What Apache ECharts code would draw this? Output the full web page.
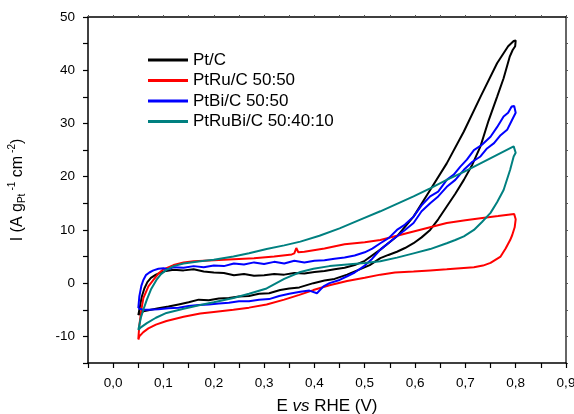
<!DOCTYPE html>
<html><head><meta charset="utf-8">
<script src="https://cdn.jsdelivr.net/npm/echarts@6/dist/echarts.min.js"></script>
<style>html,body{margin:0;padding:0;background:#fff}#c{width:574px;height:414px}</style>
</head><body><div id="c"></div>
<script>
var seriesNames = ['Pt/C', 'PtRu/C 50:50', 'PtBi/C 50:50', 'PtRuBi/C 50:40:10'];
var seriesColors = ['#000000', '#ff0000', '#0000ff', '#008080'];

// [E (V), I (A g_Pt^-1 cm^-2)] read along the cycle: forward scan then backward scan
var ptC = [[0.050,-6.0],[0.053,-4.5],[0.057,-2.5],[0.062,-1.0],[0.068,0.2],[0.075,1.0],[0.085,1.6],[0.095,2.0],[0.105,2.3],[0.12,2.5],[0.14,2.4],[0.16,2.6],[0.18,2.2],[0.20,2.0],[0.22,1.9],[0.24,1.5],[0.26,1.7],[0.28,1.4],[0.30,1.5],[0.32,1.7],[0.34,1.6],[0.36,1.9],[0.38,1.8],[0.40,2.1],[0.42,2.3],[0.44,2.6],[0.46,2.9],[0.48,3.4],[0.50,4.2],[0.531,6.3],[0.564,8.8],[0.597,12.5],[0.630,17.5],[0.663,22.5],[0.697,28.5],[0.730,35.0],[0.763,41.3],[0.785,44.5],[0.796,45.5],[0.800,45.6],
  [0.799,44.5],[0.794,43.8],[0.788,42.5],[0.776,38.5],[0.763,35.0],[0.746,30.5],[0.730,25.7],[0.714,22.3],[0.697,19.4],[0.680,16.8],[0.663,14.4],[0.646,12.0],[0.630,10.0],[0.613,8.6],[0.597,7.5],[0.580,6.6],[0.564,5.9],[0.547,5.3],[0.531,4.7],[0.510,3.4],[0.490,2.6],[0.465,1.6],[0.440,0.8],[0.420,0.5],[0.398,0.0],[0.370,-0.8],[0.350,-1.0],[0.332,-1.3],[0.310,-1.9],[0.290,-2.0],[0.270,-2.4],[0.250,-2.5],[0.230,-2.8],[0.210,-2.9],[0.190,-3.2],[0.170,-3.1],[0.150,-3.6],[0.130,-4.0],[0.110,-4.4],[0.090,-4.7],[0.075,-5.0],[0.060,-5.3],[0.052,-5.8],[0.050,-6.0]];

var ptRu = [[0.050,-10.5],[0.052,-8.0],[0.056,-5.0],[0.060,-2.8],[0.070,-0.6],[0.080,0.6],[0.090,1.8],[0.100,2.6],[0.120,3.4],[0.140,3.9],[0.160,4.1],[0.180,4.2],[0.200,4.3],[0.240,4.5],[0.280,4.7],[0.320,5.0],[0.355,5.4],[0.360,5.6],[0.364,6.6],[0.368,5.8],[0.380,5.9],[0.420,6.5],[0.460,7.3],[0.500,7.7],[0.531,8.1],[0.564,8.9],[0.597,9.7],[0.630,10.5],[0.663,11.3],[0.700,11.8],[0.730,12.2],[0.765,12.6],[0.797,13.0],
  [0.800,12.0],[0.798,10.5],[0.793,9.0],[0.789,8.1],[0.780,6.5],[0.770,5.0],[0.750,3.8],[0.735,3.3],[0.717,3.0],[0.690,2.8],[0.663,2.6],[0.630,2.4],[0.597,2.2],[0.560,2.0],[0.531,1.6],[0.500,1.0],[0.465,0.4],[0.430,-0.4],[0.398,-1.3],[0.370,-2.2],[0.340,-3.1],[0.305,-4.0],[0.270,-4.6],[0.239,-5.0],[0.200,-5.4],[0.173,-5.7],[0.140,-6.3],[0.106,-7.1],[0.085,-7.8],[0.070,-8.5],[0.060,-9.2],[0.052,-10.0],[0.050,-10.6]];

var ptBi = [[0.050,-4.7],[0.052,-2.5],[0.056,-0.5],[0.060,0.6],[0.065,1.5],[0.072,2.0],[0.080,2.4],[0.090,2.7],[0.100,2.8],[0.110,2.6],[0.120,3.0],[0.140,2.9],[0.160,3.2],[0.180,3.0],[0.200,3.3],[0.220,3.2],[0.240,3.7],[0.260,3.5],[0.280,3.9],[0.300,3.6],[0.320,4.0],[0.340,3.7],[0.360,4.2],[0.380,3.9],[0.400,4.2],[0.420,4.3],[0.440,4.6],[0.460,4.8],[0.480,5.2],[0.500,5.8],[0.515,6.5],[0.531,7.5],[0.548,8.5],[0.564,10.0],[0.580,11.0],[0.597,12.5],[0.613,14.6],[0.630,16.3],[0.646,17.2],[0.663,19.4],[0.677,20.4],[0.690,21.9],[0.703,23.2],[0.717,25.0],[0.733,26.0],[0.750,27.5],[0.763,29.3],[0.776,31.3],[0.785,32.0],[0.792,33.2],[0.797,33.3],
  [0.800,32.0],[0.792,30.5],[0.783,28.8],[0.770,27.8],[0.757,26.3],[0.743,25.3],[0.730,23.8],[0.714,22.8],[0.697,21.3],[0.680,19.4],[0.663,18.1],[0.646,16.3],[0.630,15.0],[0.613,13.5],[0.597,11.3],[0.580,10.0],[0.564,8.8],[0.548,7.6],[0.531,6.3],[0.515,4.6],[0.500,3.3],[0.480,2.0],[0.465,1.3],[0.450,0.6],[0.430,0.0],[0.418,-0.6],[0.405,-1.9],[0.390,-1.4],[0.372,-1.6],[0.350,-2.0],[0.330,-2.4],[0.310,-3.0],[0.290,-3.1],[0.270,-3.4],[0.250,-3.4],[0.230,-3.7],[0.210,-3.8],[0.190,-4.0],[0.170,-4.1],[0.150,-4.3],[0.130,-4.6],[0.110,-4.7],[0.090,-4.9],[0.070,-5.0],[0.060,-5.0],[0.052,-4.8],[0.050,-4.7]];

var ptRuBi = [[0.050,-8.8],[0.055,-6.5],[0.060,-5.0],[0.067,-3.1],[0.075,-1.2],[0.086,0.6],[0.095,1.7],[0.106,2.5],[0.120,3.2],[0.140,3.7],[0.173,4.1],[0.200,4.4],[0.239,5.0],[0.270,5.6],[0.305,6.4],[0.340,7.1],[0.372,7.8],[0.410,8.9],[0.450,10.3],[0.490,11.9],[0.531,13.5],[0.564,14.9],[0.597,16.3],[0.630,17.8],[0.663,19.4],[0.697,20.9],[0.730,22.5],[0.763,24.1],[0.796,25.7],
  [0.800,24.5],[0.796,23.8],[0.789,21.3],[0.776,17.5],[0.763,15.2],[0.750,13.2],[0.733,11.5],[0.717,10.0],[0.697,8.8],[0.680,8.1],[0.663,7.5],[0.630,6.4],[0.597,5.6],[0.564,4.8],[0.531,4.1],[0.500,3.8],[0.465,3.5],[0.430,3.2],[0.398,2.7],[0.372,2.1],[0.340,0.8],[0.305,-1.0],[0.270,-2.0],[0.239,-2.8],[0.200,-3.6],[0.173,-4.1],[0.140,-4.8],[0.106,-5.6],[0.085,-6.5],[0.067,-7.5],[0.055,-8.3],[0.050,-8.8]];

var seriesData = [ptC, ptRu, ptBi, ptRuBi];

var FONT = 'Liberation Sans, Arial, sans-serif';
var chart = echarts.init(document.getElementById('c'), null, {renderer: 'canvas'});

var series = seriesNames.map(function (n, i) {
  return {
    name: n, type: 'line', data: seriesData[i], symbol: 'none', showSymbol: false,
    lineStyle: {color: seriesColors[i], width: 2}, itemStyle: {color: seriesColors[i]},
    xAxisIndex: 0, yAxisIndex: 0, animation: false, z: 2 + i
  };
});

chart.setOption({
  animation: false,
  textStyle: {fontFamily: FONT},
  grid: {left: 88, right: 8, top: 17, bottom: 51, containLabel: false, outerBoundsMode: 'none'},
  legend: {
    orient: 'vertical', left: 148, top: 51, padding: 0, itemWidth: 40, itemHeight: 3, itemGap: 2.5,
    icon: 'rect',
    data: seriesNames,
    textStyle: {fontFamily: FONT, fontSize: 17, lineHeight: 18, color: '#000'}
  },
  xAxis: [{
    type: 'value', min: -0.05, max: 0.9, interval: 0.05, position: 'bottom',
    name: '{a|E }{i|vs}{a| RHE (V)}', nameLocation: 'middle', nameGap: 35,
    nameTextStyle: {rich: {a: {fontFamily: FONT, fontSize: 17, color: '#000'}, i: {fontFamily: FONT, fontSize: 17, fontStyle: 'italic', color: '#000'}}},
    axisLine: {onZero: false, lineStyle: {color: '#000', width: 1.5}},
    axisTick: {inside: false, length: 5, lineStyle: {color: '#000', width: 1.2}},
    minorTick: {show: false},
    splitLine: {show: false},
    axisLabel: {margin: 13, fontFamily: FONT, fontSize: 13.5, color: '#000',
      formatter: function (v) { var k = Math.round(v * 100); if (k % 10 !== 0 || k < 0) return ''; return (k / 100).toFixed(1).replace('.', ','); }}
  }, {
    type: 'value', min: -0.05, max: 0.9, interval: 0.05, position: 'top',
    axisLine: {onZero: false, lineStyle: {color: '#000', width: 1.5}},
    axisTick: {inside: false, length: 2, lineStyle: {color: '#555', width: 1}},
    axisLabel: {show: false}, splitLine: {show: false}
  }],
  yAxis: [{
    type: 'value', min: -15, max: 50, interval: 5, position: 'left',
    name: '{a|I (A g}{s|Pt}{p|-1}{a| cm}{p|-2}{a|)}', nameLocation: 'middle', nameGap: 60, nameRotate: 90,
    nameTextStyle: {rich: {
      a: {fontFamily: FONT, fontSize: 16, color: '#000'},
      s: {fontFamily: FONT, fontSize: 10, color: '#000', padding: [10, 0, 0, 0]},
      p: {fontFamily: FONT, fontSize: 10, color: '#000', padding: [0, 0, 11, 3]}
    }},
    axisLine: {onZero: false, lineStyle: {color: '#000', width: 1.5}},
    axisTick: {inside: false, length: 5, lineStyle: {color: '#000', width: 1.2}},
    splitLine: {show: false},
    axisLabel: {margin: 13, fontFamily: FONT, fontSize: 13.5, color: '#000',
      formatter: function (v) { return (Math.round(v) % 10 === 0) ? String(Math.round(v)) : ''; }}
  }, {
    type: 'value', min: -15, max: 50, interval: 5, position: 'right',
    axisLine: {onZero: false, lineStyle: {color: '#333', width: 1.5}},
    axisTick: {inside: false, length: 2, lineStyle: {color: '#555', width: 1}},
    axisLabel: {show: false}, splitLine: {show: false}
  }],
  series: series
});
</script></body></html>
